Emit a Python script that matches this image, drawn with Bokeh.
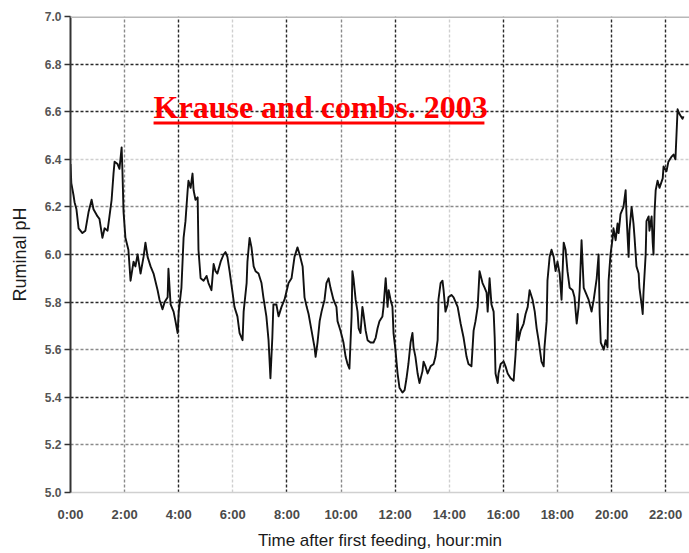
from bokeh.plotting import figure
from bokeh.models import (ColumnDataSource, FixedTicker, Grid, Label, Span,
                          Range1d)
from bokeh.embed import file_html
from bokeh.resources import INLINE

# Ruminal pH trace, time after first feeding in hours
hours = [
    0.00, 0.03, 0.11, 0.15, 0.22, 0.30, 0.44, 0.55, 0.67, 0.78, 0.85, 1.00,
    1.07, 1.18, 1.26, 1.37, 1.44, 1.52, 1.59, 1.63, 1.74, 1.81, 1.89, 1.92,
    1.96, 2.03, 2.14, 2.22, 2.33, 2.40, 2.48, 2.59, 2.70, 2.77, 2.85, 2.96,
    3.07, 3.22, 3.29, 3.40, 3.48, 3.59, 3.62, 3.70, 3.81, 3.88, 3.96, 4.00,
    4.10, 4.18, 4.25, 4.33, 4.36, 4.44, 4.51, 4.55, 4.62, 4.70, 4.73, 4.81,
    4.92, 5.03, 5.10, 5.21, 5.29, 5.36, 5.43, 5.55, 5.66, 5.73, 5.80, 5.88,
    5.99, 6.06, 6.17, 6.25, 6.36, 6.40, 6.51, 6.54, 6.62, 6.69, 6.77, 6.84,
    6.95, 7.06, 7.13, 7.24, 7.32, 7.39, 7.46, 7.50, 7.61, 7.69, 7.80, 7.91,
    8.06, 8.17, 8.28, 8.39, 8.47, 8.58, 8.65, 8.73, 8.80, 8.91, 9.02, 9.06,
    9.13, 9.21, 9.28, 9.39, 9.46, 9.54, 9.61, 9.72, 9.83, 9.87, 9.98, 10.09,
    10.17, 10.24, 10.31, 10.39, 10.42, 10.46, 10.54, 10.61, 10.65, 10.72,
    10.79, 10.83, 10.91, 10.98, 11.09, 11.20, 11.28, 11.35, 11.42, 11.53,
    11.57, 11.65, 11.72, 11.76, 11.83, 11.90, 11.94, 12.01, 12.09, 12.16,
    12.27, 12.35, 12.42, 12.49, 12.57, 12.64, 12.68, 12.75, 12.83, 12.90,
    13.01, 13.05, 13.12, 13.20, 13.31, 13.42, 13.49, 13.57, 13.60, 13.68,
    13.75, 13.79, 13.86, 13.94, 13.97, 14.08, 14.16, 14.31, 14.42, 14.53,
    14.64, 14.71, 14.82, 14.90, 14.97, 15.05, 15.12, 15.23, 15.31, 15.38,
    15.42, 15.49, 15.56, 15.64, 15.68, 15.71, 15.79, 15.82, 15.90, 16.01,
    16.08, 16.16, 16.27, 16.38, 16.45, 16.53, 16.56, 16.64, 16.75, 16.82,
    16.90, 16.97, 17.08, 17.16, 17.23, 17.30, 17.41, 17.49, 17.52, 17.60,
    17.63, 17.71, 17.78, 17.86, 17.93, 18.00, 18.08, 18.15, 18.23, 18.30,
    18.37, 18.45, 18.56, 18.63, 18.71, 18.78, 18.82, 18.89, 18.97, 19.15,
    19.26, 19.34, 19.45, 19.52, 19.56, 19.60, 19.71, 19.78, 19.85, 19.89,
    19.96, 20.04, 20.07, 20.15, 20.22, 20.26, 20.33, 20.44, 20.52, 20.55,
    20.63, 20.66, 20.74, 20.81, 20.85, 20.92, 21.00, 21.03, 21.11, 21.15,
    21.18, 21.26, 21.29, 21.37, 21.40, 21.48, 21.52, 21.55, 21.59, 21.63,
    21.70, 21.77, 21.89, 21.92, 22.03, 22.10, 22.21, 22.29, 22.36, 22.44,
    22.51, 22.62, 22.66,
]

ph = [
    6.38, 6.30, 6.25, 6.22, 6.19, 6.11, 6.09, 6.10, 6.18, 6.23, 6.19, 6.16,
    6.15, 6.07, 6.11, 6.10, 6.16, 6.23, 6.34, 6.39, 6.38, 6.36, 6.45, 6.35,
    6.18, 6.07, 6.02, 5.89, 5.97, 5.95, 6.00, 5.92, 5.99, 6.05, 5.99, 5.95,
    5.92, 5.85, 5.81, 5.77, 5.80, 5.82, 5.94, 5.79, 5.76, 5.72, 5.67, 5.76,
    5.86, 6.07, 6.14, 6.27, 6.31, 6.28, 6.34, 6.27, 6.23, 6.24, 6.02, 5.90,
    5.89, 5.91, 5.88, 5.85, 5.96, 5.93, 5.92, 5.97, 6.00, 6.01, 5.99, 5.93,
    5.84, 5.78, 5.74, 5.67, 5.64, 5.76, 5.88, 5.97, 6.07, 6.03, 5.95, 5.93,
    5.92, 5.88, 5.82, 5.74, 5.64, 5.48, 5.65, 5.79, 5.79, 5.74, 5.78, 5.81,
    5.88, 5.90, 5.99, 6.03, 6.00, 5.95, 5.82, 5.78, 5.75, 5.68, 5.61, 5.57,
    5.63, 5.72, 5.76, 5.81, 5.88, 5.90, 5.86, 5.81, 5.78, 5.72, 5.68, 5.63,
    5.57, 5.54, 5.52, 5.74, 5.93, 5.90, 5.81, 5.76, 5.69, 5.67,
    5.78, 5.75, 5.68, 5.64, 5.63, 5.63, 5.65, 5.69, 5.72, 5.74,
    5.78, 5.90, 5.78, 5.85, 5.81, 5.78, 5.67, 5.60, 5.50, 5.44,
    5.42, 5.43, 5.48, 5.54, 5.63, 5.67, 5.61, 5.57, 5.50, 5.46,
    5.51, 5.55, 5.53, 5.50, 5.53, 5.54, 5.57, 5.64, 5.81, 5.88,
    5.89, 5.85, 5.76, 5.79, 5.82, 5.83, 5.82, 5.78, 5.71, 5.65,
    5.57, 5.54, 5.53, 5.68, 5.72, 5.78, 5.93, 5.88, 5.86, 5.84,
    5.76, 5.90, 5.79, 5.76, 5.65, 5.50, 5.46, 5.50, 5.54, 5.55,
    5.53, 5.50, 5.48, 5.47, 5.58, 5.75, 5.64, 5.68, 5.71, 5.75,
    5.78, 5.85, 5.81, 5.76, 5.69, 5.64, 5.55, 5.53, 5.61, 5.72,
    5.89, 5.99, 6.02, 5.99, 5.93, 5.97, 5.92, 5.81, 6.05, 6.02,
    5.93, 5.86, 5.85, 5.82, 5.71, 5.78, 5.85, 6.06, 5.86, 5.81,
    5.76, 5.81, 5.90, 6.00, 5.75, 5.63, 5.60, 5.64, 5.61, 5.89,
    6.00, 6.07, 6.11, 6.06, 6.13, 6.09, 6.17, 6.20, 6.27, 6.17,
    5.99, 6.10, 6.20, 6.13, 6.07, 5.95, 5.92, 5.86, 5.79, 5.75,
    5.84, 6.00, 6.14, 6.16, 6.10, 6.16, 6.05, 6.00, 6.18, 6.27,
    6.31, 6.28, 6.32, 6.37, 6.35, 6.39, 6.41, 6.42, 6.40, 6.61,
    6.59, 6.57, 6.58,
]

x_ticks = [0, 2, 4, 6, 8, 10, 12, 14, 16, 18, 20, 22]
x_tick_labels = ["0:00", "2:00", "4:00", "6:00", "8:00", "10:00", "12:00",
                 "14:00", "16:00", "18:00", "20:00", "22:00"]
y_ticks = [5.0, 5.2, 5.4, 5.6, 5.8, 6.0, 6.2, 6.4, 6.6, 6.8, 7.0]

source_note = "Krause and combs. 2003"
x_title = "Time after first feeding, hour:min"
y_title = "Ruminal pH"

# grid shading: each gridline printed with its own ink density
dark_x = [4, 8, 12, 16, 20, 22]
mid_x = [2, 10, 18]
light_x = [6, 14]
dark_y = [5.4, 5.8, 6.0, 6.6, 6.8]
mid_y = [5.2, 5.6, 6.2]
light_y = [6.4]

FONT = "Liberation Sans"

p = figure(width=689, height=553, output_backend="svg", toolbar_location=None,
           x_range=Range1d(0, 22.88), y_range=Range1d(5.0, 7.0),
           min_border_left=70, min_border_right=0, min_border_top=16,
           min_border_bottom=61)
p.background_fill_color = "white"
p.border_fill_color = "white"
p.outline_line_color = None
p.xgrid.visible = False
p.ygrid.visible = False

# gridlines
for ticks, color in ((light_x, "#cfcfcf"), (mid_x, "#8a8a8a"), (dark_x, "#2a2a2a")):
    g = Grid(dimension=0, ticker=FixedTicker(ticks=ticks),
             grid_line_color=color, grid_line_width=1.4,
             grid_line_dash="3 2")
    p.add_layout(g)
for ticks, color in ((light_y, "#cfcfcf"), (mid_y, "#8a8a8a"), (dark_y, "#2a2a2a")):
    g = Grid(dimension=1, ticker=FixedTicker(ticks=ticks),
             grid_line_color=color, grid_line_width=1.4,
             grid_line_dash="3 2")
    p.add_layout(g)

# upper frame edge
p.add_layout(Span(location=7.0, dimension="width", line_color="#b8b8b8",
                  line_width=3))

# x axis
xa = p.xaxis[0]
xa.ticker = FixedTicker(ticks=x_ticks)
xa.major_label_overrides = {t: s for t, s in zip(x_ticks, x_tick_labels)}
xa.axis_line_color = "#d0d0d0"
xa.axis_line_width = 1.5
xa.major_tick_line_color = None
xa.minor_tick_line_color = None
xa.major_label_standoff = 8
xa.major_label_text_font = FONT
xa.major_label_text_font_size = "13px"
xa.major_label_text_font_style = "bold"
xa.major_label_text_color = "#4a4a4a"
xa.axis_label = x_title
xa.axis_label_text_font = FONT
xa.axis_label_text_font_size = "17px"
xa.axis_label_text_font_style = "normal"
xa.axis_label_text_color = "#1a1a1a"
xa.axis_label_standoff = 6

# y axis
ya = p.yaxis[0]
ya.ticker = FixedTicker(ticks=y_ticks)
ya.formatter.use_scientific = False
ya.major_label_overrides = {t: f"{t:.1f}" for t in y_ticks}
ya.axis_line_color = "#333333"
ya.axis_line_width = 2
ya.major_tick_out = 6
ya.major_tick_in = 0
ya.major_tick_line_color = "#333333"
ya.major_tick_line_width = 1.5
ya.minor_tick_line_color = None
ya.major_label_standoff = 3
ya.major_label_text_font = FONT
ya.major_label_text_font_size = "12px"
ya.major_label_text_font_style = "bold"
ya.major_label_text_color = "#555555"
ya.axis_label = y_title
ya.axis_label_text_font = FONT
ya.axis_label_text_font_size = "18px"
ya.axis_label_text_font_style = "normal"
ya.axis_label_text_color = "#1a1a1a"
ya.axis_label_standoff = 12

# pH trace
src = ColumnDataSource(data=dict(h=hours, ph=ph))
p.line("h", "ph", source=src, line_color="#111111", line_width=1.9,
       line_join="round")

# red citation, underlined
note = Label(x=3.07, y=6.618, text=source_note, text_font="Liberation Serif",
             text_font_size="32px", text_font_style="bold",
             text_color="#ff0000", text_baseline="alphabetic",
             text_align="left")
p.add_layout(note)
p.segment(x0=[3.07], y0=[6.552], x1=[15.30], y1=[6.552],
          line_color="#ff0000", line_width=3)

open("out.html", "w").write(file_html(p, INLINE))
